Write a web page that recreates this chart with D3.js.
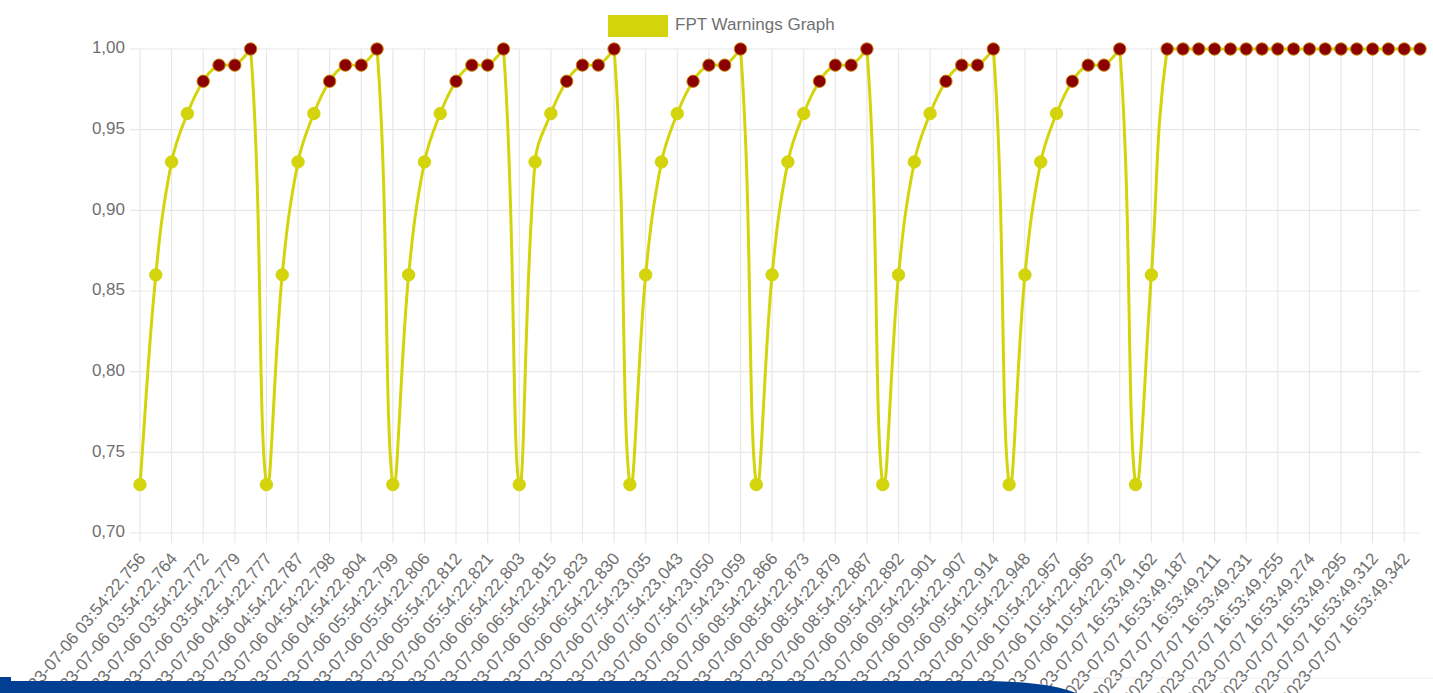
<!DOCTYPE html>
<html>
<head>
<meta charset="utf-8">
<script src="https://cdn.jsdelivr.net/npm/d3@7"></script>
<style>
  html, body { margin: 0; padding: 0; background: #fff; }
  svg { display: block; }
  text { font-family: "Liberation Sans", Arial, Helvetica, sans-serif; }
</style>
</head>
<body>
<svg id="chart" width="1433" height="693"></svg>
<script>
// ---------------- data ----------------
const seriesName = "FPT Warnings Graph";

const categories = [
  "2023-07-06 03:54:22,756","2023-07-06 03:54:22,760","2023-07-06 03:54:22,764","2023-07-06 03:54:22,768",
  "2023-07-06 03:54:22,772","2023-07-06 03:54:22,776","2023-07-06 03:54:22,779","2023-07-06 03:54:22,783",
  "2023-07-06 04:54:22,777","2023-07-06 04:54:22,782","2023-07-06 04:54:22,787","2023-07-06 04:54:22,792",
  "2023-07-06 04:54:22,798","2023-07-06 04:54:22,801","2023-07-06 04:54:22,804","2023-07-06 04:54:22,808",
  "2023-07-06 05:54:22,799","2023-07-06 05:54:22,802","2023-07-06 05:54:22,806","2023-07-06 05:54:22,809",
  "2023-07-06 05:54:22,812","2023-07-06 05:54:22,816","2023-07-06 05:54:22,821","2023-07-06 05:54:22,825",
  "2023-07-06 06:54:22,803","2023-07-06 06:54:22,809","2023-07-06 06:54:22,815","2023-07-06 06:54:22,819",
  "2023-07-06 06:54:22,823","2023-07-06 06:54:22,827","2023-07-06 06:54:22,830",
  "2023-07-06 07:54:23,031","2023-07-06 07:54:23,035","2023-07-06 07:54:23,039","2023-07-06 07:54:23,043",
  "2023-07-06 07:54:23,046","2023-07-06 07:54:23,050","2023-07-06 07:54:23,054","2023-07-06 07:54:23,059",
  "2023-07-06 08:54:22,862","2023-07-06 08:54:22,866","2023-07-06 08:54:22,870","2023-07-06 08:54:22,873",
  "2023-07-06 08:54:22,876","2023-07-06 08:54:22,879","2023-07-06 08:54:22,883","2023-07-06 08:54:22,887",
  "2023-07-06 09:54:22,888","2023-07-06 09:54:22,892","2023-07-06 09:54:22,897","2023-07-06 09:54:22,901",
  "2023-07-06 09:54:22,904","2023-07-06 09:54:22,907","2023-07-06 09:54:22,910","2023-07-06 09:54:22,914",
  "2023-07-06 10:54:22,944","2023-07-06 10:54:22,948","2023-07-06 10:54:22,952","2023-07-06 10:54:22,957",
  "2023-07-06 10:54:22,961","2023-07-06 10:54:22,965","2023-07-06 10:54:22,969","2023-07-06 10:54:22,972",
  "2023-07-07 16:53:49,150","2023-07-07 16:53:49,162","2023-07-07 16:53:49,175","2023-07-07 16:53:49,187",
  "2023-07-07 16:53:49,199","2023-07-07 16:53:49,211","2023-07-07 16:53:49,221","2023-07-07 16:53:49,231",
  "2023-07-07 16:53:49,243","2023-07-07 16:53:49,255","2023-07-07 16:53:49,265","2023-07-07 16:53:49,274",
  "2023-07-07 16:53:49,285","2023-07-07 16:53:49,295","2023-07-07 16:53:49,303","2023-07-07 16:53:49,312",
  "2023-07-07 16:53:49,327","2023-07-07 16:53:49,342","2023-07-07 16:53:49,355"
];

const values = [
  0.73,0.86,0.93,0.96,0.98,0.99,0.99,1.00,
  0.73,0.86,0.93,0.96,0.98,0.99,0.99,1.00,
  0.73,0.86,0.93,0.96,0.98,0.99,0.99,1.00,
  0.73,0.93,0.96,0.98,0.99,0.99,1.00,
  0.73,0.86,0.93,0.96,0.98,0.99,0.99,1.00,
  0.73,0.86,0.93,0.96,0.98,0.99,0.99,1.00,
  0.73,0.86,0.93,0.96,0.98,0.99,0.99,1.00,
  0.73,0.86,0.93,0.96,0.98,0.99,0.99,1.00,
  0.73,0.86,
  1.00,1.00,1.00,1.00,1.00,1.00,1.00,1.00,1.00,1.00,1.00,1.00,1.00,1.00,1.00,1.00,1.00
];

const yTicks = [0.70, 0.75, 0.80, 0.85, 0.90, 0.95, 1.00];
const highThreshold = 0.98;

// ---------------- layout / style ----------------
const W = 1433, H = 693;
const plot = { left: 140, right: 1420, top: 49, bottom: 533 };
const lineColor = "#d4d40c";
const highColor = "#8b0000";
const gridColor = "#e8e8e8";
const textColor = "#707070";
const fontSize = 17;

const svg = d3.select("#chart");
svg.append("rect").attr("width", W).attr("height", H).attr("fill", "#fff");

const x = d3.scalePoint().domain(d3.range(categories.length)).range([plot.left, plot.right]);
const y = d3.scaleLinear().domain([0.70, 1.00]).range([plot.bottom, plot.top]);

// shown ticks (auto-skip every other)
const shownIdx = d3.range(0, categories.length, 2);

// grid: horizontal
svg.append("g").selectAll("line").data(yTicks).join("line")
  .attr("x1", plot.left - 10).attr("x2", plot.right)
  .attr("y1", d => y(d)).attr("y2", d => y(d))
  .attr("stroke", gridColor).attr("stroke-width", 1.2);

// grid: vertical
svg.append("g").selectAll("line").data(shownIdx).join("line")
  .attr("x1", d => x(d)).attr("x2", d => x(d))
  .attr("y1", plot.top).attr("y2", plot.bottom + 10)
  .attr("stroke", gridColor).attr("stroke-width", 1.2);

// y axis labels
const fmt = d3.format(".2f");
svg.append("g").selectAll("text").data(yTicks).join("text")
  .attr("x", plot.left - 15).attr("y", d => y(d))
  .attr("text-anchor", "end").attr("dominant-baseline", "middle")
  .attr("font-size", fontSize).attr("fill", textColor)
  .text(d => fmt(d).replace(".", ","));

// x axis labels (rotated 50deg)
svg.append("g").selectAll("text").data(shownIdx).join("text")
  .attr("transform", d => `translate(${x(d) + 3},${plot.bottom + 23}) rotate(-50)`)
  .attr("text-anchor", "end").attr("dominant-baseline", "middle")
  .attr("font-size", fontSize).attr("fill", textColor)
  .text(d => categories[d]);

// Chart.js-like spline line
const pts = values.map((v, i) => ({ x: x(i), y: y(v) }));
const t = 0.4;
const ctrl = pts.map((cur, i) => {
  const prev = i > 0 ? pts[i - 1] : cur;
  const next = i < pts.length - 1 ? pts[i + 1] : cur;
  const d01 = Math.hypot(cur.x - prev.x, cur.y - prev.y);
  const d12 = Math.hypot(next.x - cur.x, next.y - cur.y);
  let s01 = d01 / (d01 + d12), s12 = d12 / (d01 + d12);
  if (isNaN(s01)) s01 = 0; if (isNaN(s12)) s12 = 0;
  const fa = t * s01, fb = t * s12;
  const cap = v => Math.max(plot.top, Math.min(plot.bottom, v));
  return {
    px: cur.x - fa * (next.x - prev.x), py: cap(cur.y - fa * (next.y - prev.y)),
    nx: cur.x + fb * (next.x - prev.x), ny: cap(cur.y + fb * (next.y - prev.y))
  };
});
const p = d3.path();
p.moveTo(pts[0].x, pts[0].y);
for (let i = 1; i < pts.length; i++) {
  p.bezierCurveTo(ctrl[i - 1].nx, ctrl[i - 1].ny, ctrl[i].px, ctrl[i].py, pts[i].x, pts[i].y);
}
svg.append("path").attr("d", p.toString())
  .attr("fill", "none").attr("stroke", lineColor).attr("stroke-width", 3)
  .attr("stroke-linejoin", "round");

// points
svg.append("g").selectAll("circle").data(values).join("circle")
  .attr("cx", (d, i) => x(i)).attr("cy", d => y(d))
  .attr("r", 6.2)
  .attr("fill", d => d >= highThreshold ? highColor : lineColor)
  .attr("stroke", d => d >= highThreshold ? "#c8860a" : lineColor)
  .attr("stroke-width", 1);

// legend
const lg = svg.append("g");
lg.append("rect").attr("x", 608).attr("y", 15).attr("width", 60).attr("height", 22).attr("fill", lineColor);
lg.append("text").attr("x", 675).attr("y", 26).attr("dominant-baseline", "middle")
  .attr("font-size", fontSize).attr("fill", textColor).text(seriesName);

// bottom blue band (page decoration)
svg.append("line").attr("x1", 1075).attr("x2", W).attr("y1", 678).attr("y2", 678)
  .attr("stroke", "#eeeeee").attr("stroke-width", 1);
svg.append("path")
  .attr("d", "M0,677 L11,677 L11,681 L990,681 Q1050,682 1076,693 L0,693 Z")
  .attr("fill", "#003f91");
</script>
</body>
</html>
